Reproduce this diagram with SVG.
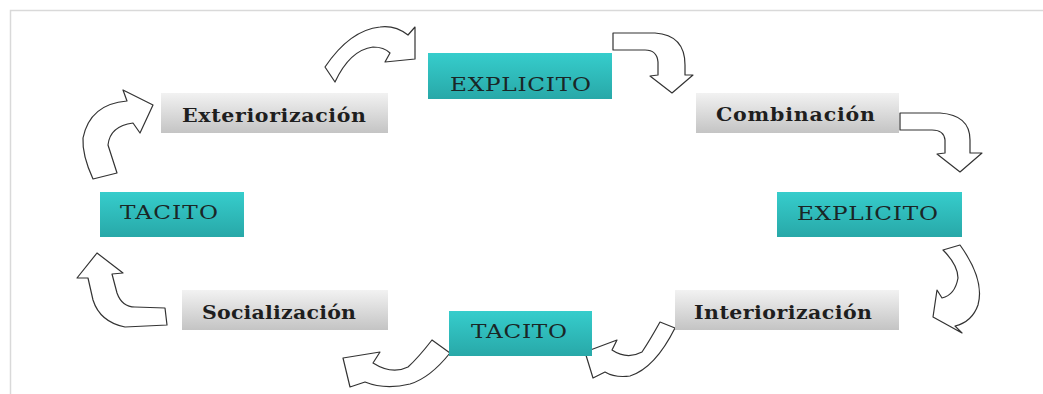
<svg xmlns="http://www.w3.org/2000/svg" width="1043" height="394" viewBox="0 0 1043 394">
<defs>
<linearGradient id="gGray" x1="0" y1="0" x2="0" y2="1">
<stop offset="0" stop-color="#f2f2f2"/>
<stop offset="1" stop-color="#c4c4c4"/>
</linearGradient>
<linearGradient id="gTeal" x1="0" y1="0" x2="0" y2="1">
<stop offset="0" stop-color="#36cdcc"/>
<stop offset="1" stop-color="#28a8a8"/>
</linearGradient>
<style>
.gray{fill:url(#gGray);}
.teal{fill:url(#gTeal);}
.tg{font-family:"DejaVu Serif","Liberation Serif",serif;font-weight:bold;font-size:19px;fill:#1e1e1e;}
.tt{font-family:"DejaVu Serif","Liberation Serif",serif;font-size:19px;fill:#1a2626;}
.arr{fill:#ffffff;stroke:#333333;stroke-width:1.2;stroke-linejoin:round;}
.frame{stroke:#d9d9d9;stroke-width:1.5;fill:none;}
</style>
</defs>
<rect width="1043" height="394" fill="#ffffff"/>
<path class="frame" d="M10.5,394 L10.5,10.5 L1043,10.5"/>

<g id="connectors">
<path class="arr" d="M93,179 L117,173 L108,145 Q110,126 133,123 L140,133 L153,105 L123,90 L127,101 Q90,104 83,138 Q82,155 93,179 Z"/>
<path class="arr" d="M325,67 L335,82 Q350,50 373,47 Q384,47 390,53 L385,62 L415,59 L415,27 L408,35 Q395,25 380,27 Q350,30 325,67 Z"/>
<path class="arr" d="M613,33 L655,33 Q685,35 685,65 L685,75 L693,75 L672,93 L650,76 L658,75 L658,62 Q657,50 645,50 L613,50 Z"/>
<path class="arr" d="M900,113 L940,113 Q970,115 970,140 L970,153 L982,153 L960,172 L937,154 L945,153 L945,140 Q944,130 932,130 L900,130 Z"/>
<path class="arr" d="M943,250 L960,245 Q985,280 978,305 Q972,322 955,326 L962,333 L933,317 L937,290 L942,298 Q955,295 958,278 Q958,265 943,250 Z"/>
<path class="arr" d="M660,322 L675,328 Q655,368 630,376 Q615,378 605,372 L593,378 L585,352 L617,340 L612,350 Q627,360 642,352 Q650,340 660,322 Z"/>
<path class="arr" d="M432,340 L450,353 Q430,378 410,384 Q385,390 365,382 L350,387 L343,358 L380,352 L373,363 Q392,375 408,367 Q418,358 432,340 Z"/>
<path class="arr" d="M165,308 L167,325 L125,327 Q100,322 93,300 L88,278 L77,278 L97,253 L123,273 L112,274 L117,293 Q122,307 135,307 Z"/>
</g>

<g id="node-exteriorizacion">
<rect class="gray" x="161" y="93" width="227" height="40"/>
<text class="tg" transform="translate(182,122) scale(1.08,1)" x="0" y="0" textLength="170.4" lengthAdjust="spacing">Exteriorización</text>
</g>
<g id="node-explicito-top">
<rect class="teal" x="428" y="53" width="184" height="46"/>
<text class="tt" transform="translate(450,91) scale(1.22,1)" x="0" y="0" textLength="115.5" lengthAdjust="spacing">EXPLICITO</text>
</g>
<g id="node-combinacion">
<rect class="gray" x="696" y="93" width="203" height="40"/>
<text class="tg" transform="translate(716,121) scale(1.08,1)" x="0" y="0" textLength="147.2" lengthAdjust="spacing">Combinación</text>
</g>
<g id="node-explicito-right">
<rect class="teal" x="777" y="192" width="185" height="45"/>
<text class="tt" transform="translate(797,220) scale(1.22,1)" x="0" y="0" textLength="115.5" lengthAdjust="spacing">EXPLICITO</text>
</g>
<g id="node-interiorizacion">
<rect class="gray" x="675" y="290" width="224" height="40"/>
<text class="tg" transform="translate(694,319) scale(1.08,1)" x="0" y="0" textLength="164.8" lengthAdjust="spacing">Interiorización</text>
</g>
<g id="node-tacito-bottom">
<rect class="teal" x="449" y="311" width="143" height="45"/>
<text class="tt" transform="translate(471,338) scale(1.22,1)" x="0" y="0" textLength="78.7" lengthAdjust="spacing">TACITO</text>
</g>
<g id="node-socializacion">
<rect class="gray" x="182" y="290" width="206" height="40"/>
<text class="tg" transform="translate(202,319) scale(1.08,1)" x="0" y="0" textLength="142.6" lengthAdjust="spacing">Socialización</text>
</g>
<g id="node-tacito-left">
<rect class="teal" x="100" y="192" width="144" height="45"/>
<text class="tt" transform="translate(120,219) scale(1.22,1)" x="0" y="0" textLength="80.3" lengthAdjust="spacing">TACITO</text>
</g>
</svg>
